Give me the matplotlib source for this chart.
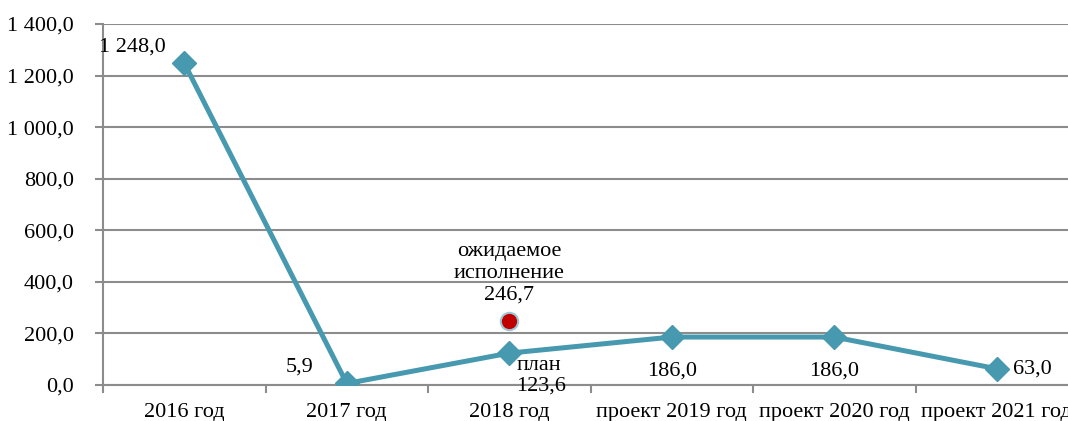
import matplotlib.pyplot as plt

plt.rcParams['font.family'] = ['Liberation Serif', 'DejaVu Serif']

categories = ["2016 год", "2017 год", "2018 год", "проект 2019 год", "проект 2020 год", "проект 2021 год"]
values = [1248.0, 5.9, 123.6, 186.0, 186.0, 63.0]
value_labels = ["1 248,0", "5,9", "план\n123,6", "186,0", "186,0", "63,0"]
expected_2018 = 246.7
expected_label = "ожидаемое\nисполнение\n246,7"
y_ticks = [0, 200, 400, 600, 800, 1000, 1200, 1400]
y_tick_labels = ["0,0", "200,0", "400,0", "600,0", "800,0", "1 000,0", "1 200,0", "1 400,0"]

line_color = "#4799b0"
grid_color = "#8c8c8c"
fs = 16

fig = plt.figure(figsize=(10.68, 4.21), dpi=100)
ax = fig.add_axes([103 / 1068, 36 / 421, 975 / 1068, 361 / 421])

x = list(range(len(categories)))
ax.plot(x, values, color=line_color, lw=3.6, marker="D", markersize=12, zorder=3)
ax.plot([2], [expected_2018], marker="o", color="#c00000", markersize=12.5,
        markeredgecolor="#9cc7d6", markeredgewidth=1.5, ls="none", zorder=4)

ax.set_xlim(-0.5, len(categories) - 0.5)
ax.set_ylim(0, 1400)
ax.set_yticks(y_ticks)
ax.set_yticklabels(y_tick_labels, fontsize=fs)
ax.set_xticks(x)
ax.set_xticklabels(categories, fontsize=fs)
ax.set_xticks([i - 0.5 for i in range(len(categories) + 1)], minor=True)
ax.tick_params(axis="x", which="major", length=0, pad=13)
ax.tick_params(axis="x", which="minor", length=6, color=grid_color, width=1.5)
ax.tick_params(axis="y", length=6, color=grid_color, width=1.5, pad=15)

ax.grid(axis="y", color=grid_color, lw=1.5)
ax.set_axisbelow(True)
for s in ["top", "right"]:
    ax.spines[s].set_visible(False)
for s in ["left", "bottom"]:
    ax.spines[s].set_color(grid_color)
    ax.spines[s].set_linewidth(1.5)

# data labels
ax.annotate(value_labels[0], (0, values[0]), xytext=(-13, 5), textcoords="offset points",
            ha="right", va="bottom", fontsize=fs)
ax.annotate(value_labels[1], (1, values[1]), xytext=(-24, 5), textcoords="offset points",
            ha="right", va="bottom", fontsize=fs)
ax.annotate(value_labels[2], (2, values[2]), xytext=(5, -2), textcoords="offset points",
            ha="left", va="top", fontsize=fs, linespacing=1.1)
for i in (3, 4):
    ax.annotate(value_labels[i], (i, values[i]), xytext=(0, -18), textcoords="offset points",
                ha="center", va="top", fontsize=fs)
ax.annotate(value_labels[5], (5, values[5]), xytext=(12, 0), textcoords="offset points",
            ha="left", va="center", fontsize=fs)
ax.annotate(expected_label, (2, expected_2018), xytext=(0, 12), textcoords="offset points",
            ha="center", va="bottom", fontsize=fs, linespacing=1.2)

fig.savefig("out.png", dpi=100)
